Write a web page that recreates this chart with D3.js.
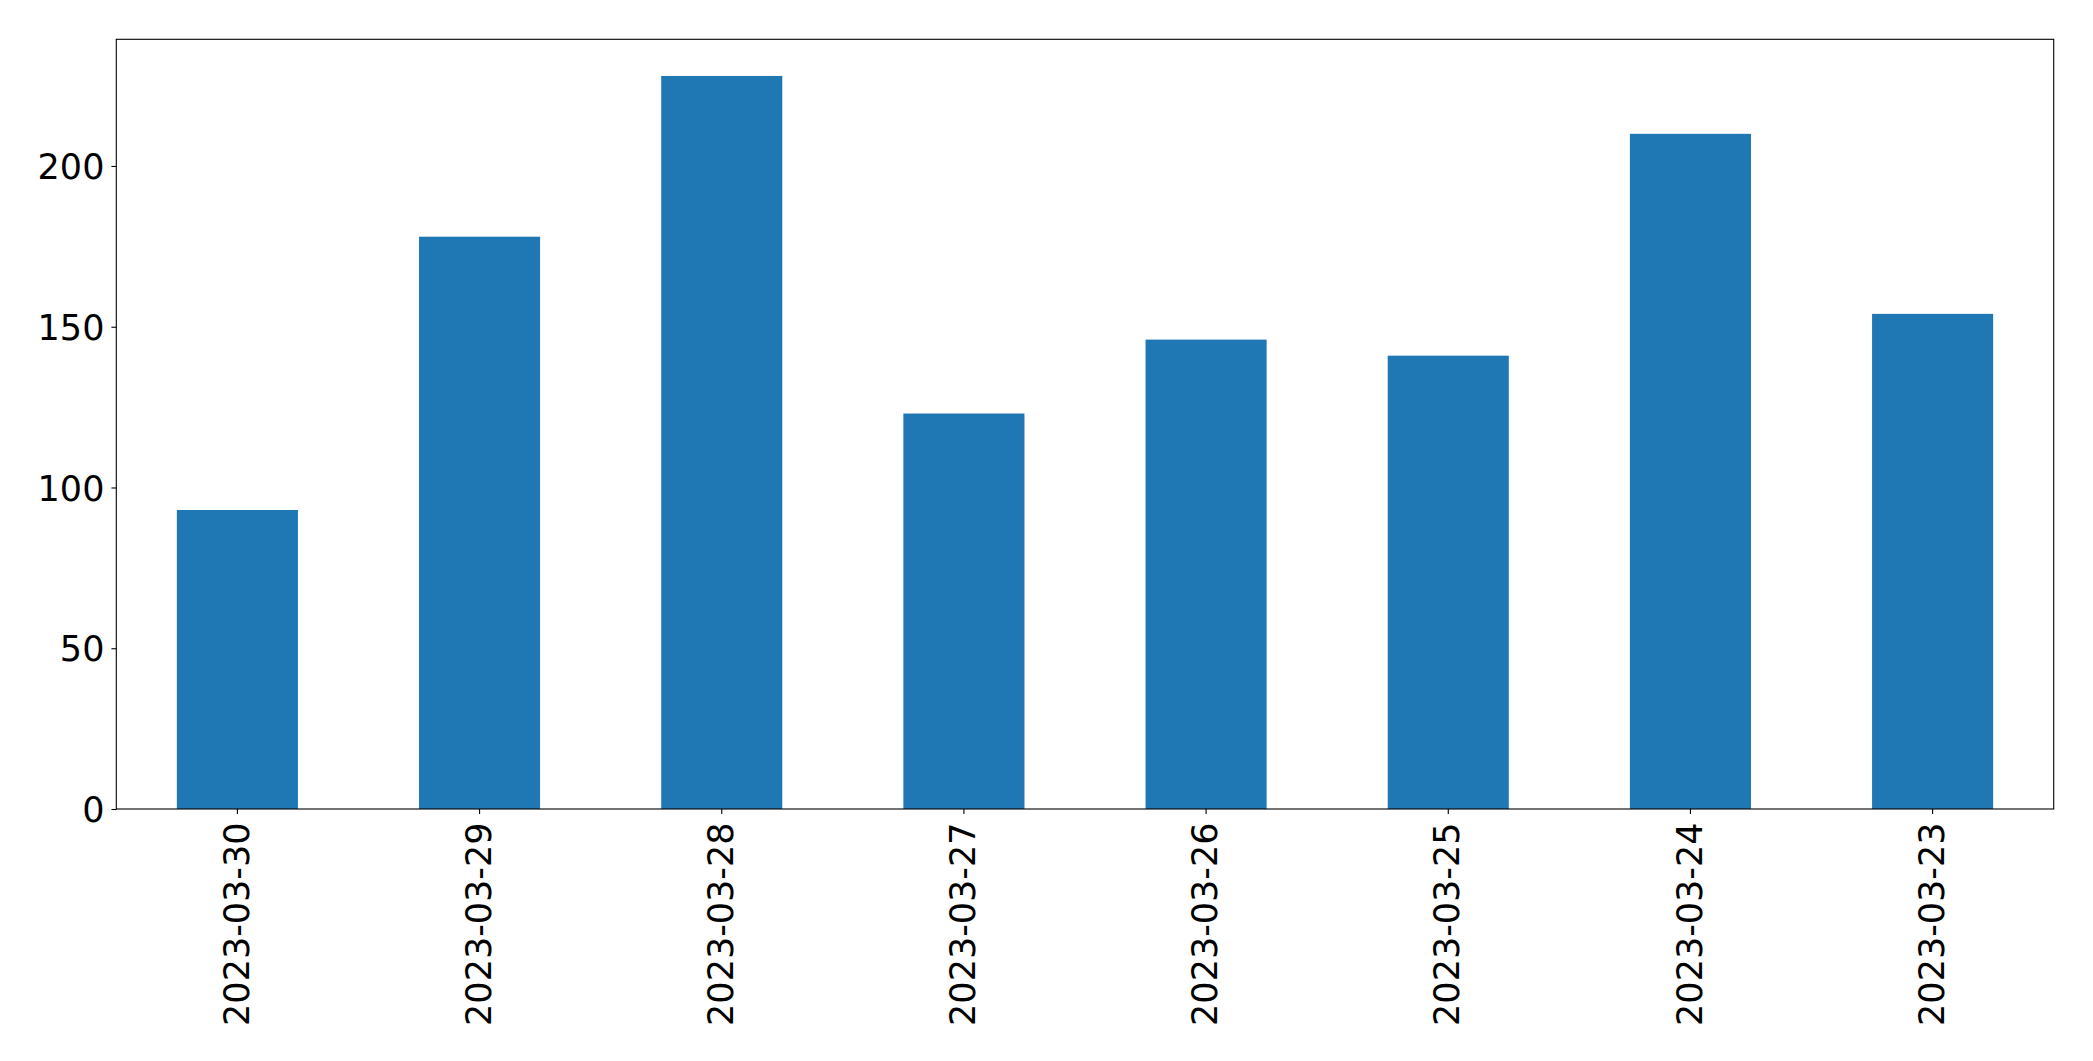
<!DOCTYPE html>
<html lang="en">
  <head>
    <meta charset="UTF-8" />
    <title>Daily counts</title>
    <style>
      body { margin: 0; background: #fff; }
      .bar { fill: #1f77b4; }
      .frame { fill: none; stroke: #000; stroke-width: 1.1px; }
      .axis text { font-family: "DejaVu Sans", sans-serif; font-size: 35px; fill: #000; }
      .axis line { stroke: #000; stroke-width: 1.1px; }
      .axis .domain { display: none; }
    </style>
  </head>
  <body>
    <script src="https://cdn.jsdelivr.net/npm/d3@7"></script>
    <script>
    // data
    var dates = ["2023-03-30", "2023-03-29", "2023-03-28", "2023-03-27",
                 "2023-03-26", "2023-03-25", "2023-03-24", "2023-03-23"];
    var counts = [93, 178, 228, 123, 146, 141, 210, 154];
    var yTicks = [0, 50, 100, 150, 200];

    var W = 2093, H = 1061;
    var margin = { top: 39.3, right: 39.3, bottom: 252, left: 116.3 };
    var w = W - margin.left - margin.right,
        h = H - margin.top - margin.bottom;

    var svg = d3.select("body").append("svg")
                .attr("width", W)
                .attr("height", H);
    var g = svg.append("g")
               .attr("transform", "translate(" + margin.left + "," + margin.top + ")");

    var xScale = d3.scaleBand()
                   .domain(dates)
                   .range([0, w])
                   .paddingInner(0.5)
                   .paddingOuter(0.25);
    var yScale = d3.scaleLinear()
                   .domain([0, d3.max(counts) * 1.05])
                   .range([h, 0]);

//bars
    g.selectAll(".bar")
     .data(dates)
     .enter().append("rect")
     .attr("class", "bar")
     .attr("x", function(d) { return xScale(d); })
     .attr("width", xScale.bandwidth())
     .attr("y", function(d, i) { return yScale(counts[i]); })
     .attr("height", function(d, i) { return h - yScale(counts[i]); });

//axes
    var yAxis = d3.axisLeft(yScale)
                  .tickValues(yTicks)
                  .tickSize(4.9)
                  .tickPadding(7);
    g.append("g")
     .attr("class", "axis y-axis")
     .call(yAxis)
     .selectAll("text")
     .attr("dy", "0.36em");

    var xAxis = d3.axisBottom(xScale)
                  .tickSize(4.9);
    g.append("g")
     .attr("class", "axis x-axis")
     .attr("transform", "translate(0," + h + ")")
     .call(xAxis)
     .selectAll("text")
     .attr("y", 0)
     .attr("x", 0)
     .attr("dy", "0.32em")
     .attr("text-anchor", "end")
     .attr("transform", "translate(0,13.5)rotate(-90)");

//frame
    g.append("rect")
     .attr("class", "frame")
     .attr("width", w)
     .attr("height", h);
    </script>
  </body>
</html>
